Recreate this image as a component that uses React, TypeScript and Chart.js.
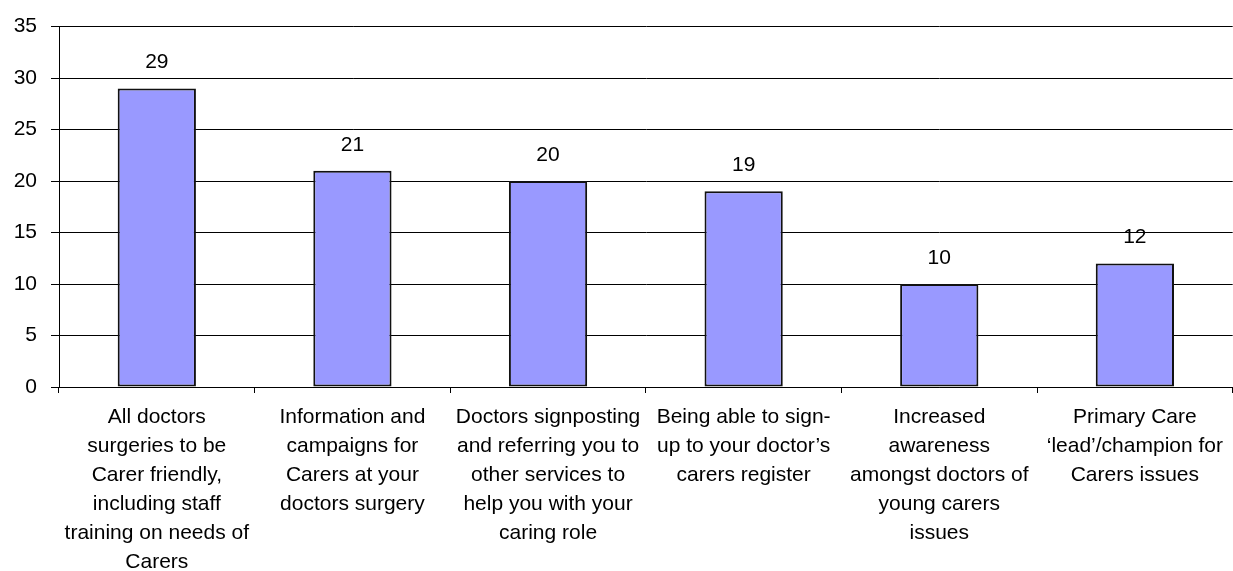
import React, { useEffect, useRef } from "react";
import { Chart, registerables } from "chart.js";

Chart.register(...registerables);

const categories: string[][] = [
  ["All doctors", "surgeries to be", "Carer friendly,", "including staff", "training on needs of", "Carers"],
  ["Information and", "campaigns for", "Carers at your", "doctors surgery"],
  ["Doctors signposting", "and referring you to", "other services to", "help you with your", "caring role"],
  ["Being able to sign-", "up to your doctor’s", "carers register"],
  ["Increased", "awareness", "amongst doctors of", "young carers", "issues"],
  ["Primary Care", "‘lead’/champion for", "Carers issues"],
];
const values: number[] = [29, 21, 20, 19, 10, 12];
const yMin = 0;
const yMax = 35;
const yStep = 5;

const FONT = '"Liberation Sans", Arial, sans-serif';
const FONT_SIZE = 21;

const valueLabels = {
  id: "valueLabels",
  afterDatasetsDraw(chart: any) {
    const ctx = chart.ctx;
    const meta = chart.getDatasetMeta(0);
    ctx.save();
    ctx.font = `${FONT_SIZE}px ${FONT}`;
    ctx.fillStyle = "#000";
    ctx.textAlign = "center";
    ctx.textBaseline = "middle";
    meta.data.forEach((bar: any, i: number) => {
      ctx.fillText(String(values[i]), bar.x, bar.y - 26);
    });
    ctx.restore();
  },
};

export default function App() {
  const ref = useRef<HTMLCanvasElement | null>(null);

  useEffect(() => {
    if (!ref.current) return;
    const chart = new Chart(ref.current, {
      type: "bar",
      data: {
        labels: categories,
        datasets: [
          {
            data: values,
            backgroundColor: "#9999FF",
            borderColor: "#111111",
            borderWidth: 2,
            borderSkipped: false,
            categoryPercentage: 1,
            barPercentage: 0.4,
          },
        ],
      },
      options: {
        responsive: false,
        animation: false,
        layout: { padding: { top: 24, left: 0, right: 0, bottom: 0 } },
        plugins: {
          legend: { display: false },
          tooltip: { enabled: false },
        },
        scales: {
          x: {
            grid: {
              drawOnChartArea: false,
              drawTicks: true,
              tickLength: 6,
              color: "#000",
            },
            border: { color: "#000", width: 1 },
            ticks: {
              color: "#000",
              padding: 10,
              maxRotation: 0,
              autoSkip: false,
              font: { family: FONT, size: FONT_SIZE, lineHeight: 29 / FONT_SIZE },
            },
            afterFit: (scale: any) => {
              scale.height = 184;
            },
          },
          y: {
            min: yMin,
            max: yMax,
            ticks: {
              stepSize: yStep,
              color: "#000",
              padding: 14,
              font: { family: FONT, size: FONT_SIZE },
            },
            grid: {
              color: "#000",
              lineWidth: 1,
              drawTicks: true,
              tickLength: 8,
            },
            border: { color: "#000", width: 1 },
            afterFit: (scale: any) => {
              scale.width = 59;
            },
          },
        },
      },
      plugins: [valueLabels],
    });
    return () => chart.destroy();
  }, []);

  return (
    <div style={{ position: "absolute", left: 0, top: 0, width: 1233, height: 571, background: "#fff" }}>
      <canvas ref={ref} width={1233} height={571} />
    </div>
  );
}
